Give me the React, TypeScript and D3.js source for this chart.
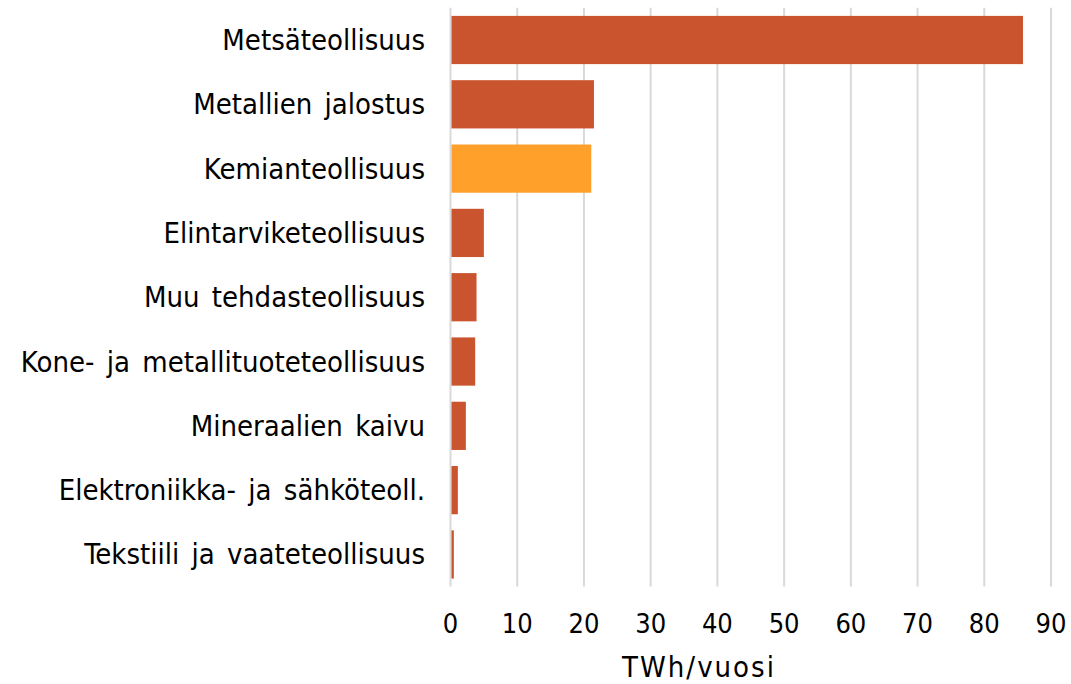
import React from "react";
import * as d3 from "d3";

const categories = [
  "Metsäteollisuus",
  "Metallien jalostus",
  "Kemianteollisuus",
  "Elintarviketeollisuus",
  "Muu tehdasteollisuus",
  "Kone- ja metallituoteteollisuus",
  "Mineraalien kaivu",
  "Elektroniikka- ja sähköteoll.",
  "Tekstiili ja vaateteollisuus",
];
const values = [85.8, 21.5, 21.1, 5.0, 3.9, 3.7, 2.3, 1.1, 0.5];
const highlighted = ["Kemianteollisuus"];
const xTicks = [0, 10, 20, 30, 40, 50, 60, 70, 80, 90];
const xTitle = "TWh/vuosi";

const W = 1071;
const H = 684;
const FONT = "'DejaVu Sans Condensed', 'DejaVu Sans', sans-serif";

export default function App() {
  const x = d3.scaleLinear().domain([0, 90]).range([450.5, 1051]);
  const [top, bottom] = [7.85, 586.6];
  const y = d3
    .scaleBand<string>()
    .domain(categories)
    .range([top, bottom])
    .paddingInner(0.25)
    .paddingOuter(0.125);

  return (
    <svg
      width={W}
      height={H}
      style={{ position: "absolute", left: 0, top: 0, background: "#fff" }}
    >
      {xTicks.map((t) => (
        <line
          key={"g" + t}
          x1={x(t)}
          x2={x(t)}
          y1={top}
          y2={bottom}
          stroke="#d9d9d9"
          strokeWidth={2}
        />
      ))}
      {categories.map((c, i) => (
        <rect
          key={c}
          x={x(0) + 1}
          y={y(c)!}
          width={Math.max(0, x(values[i]) - x(0) - 1)}
          height={y.bandwidth()}
          fill={highlighted.includes(c) ? "#FEA02A" : "#CA542D"}
        />
      ))}
      {categories.map((c) => (
        <text
          key={"l" + c}
          x={425}
          y={y(c)! + y.bandwidth() / 2 + 10}
          textAnchor="end"
          fontFamily={FONT}
          fontSize={29}
          wordSpacing={4}
          fill="#000"
        >
          {c}
        </text>
      ))}
      {xTicks.map((t) => (
        <text
          key={"t" + t}
          x={x(t)}
          y={633}
          textAnchor="middle"
          fontFamily={FONT}
          fontSize={27}
          fill="#000"
        >
          {t}
        </text>
      ))}
      <text
        x={699}
        y={677}
        textAnchor="middle"
        fontFamily={FONT}
        fontSize={29}
        letterSpacing={2}
        fill="#000"
      >
        {xTitle}
      </text>
    </svg>
  );
}
